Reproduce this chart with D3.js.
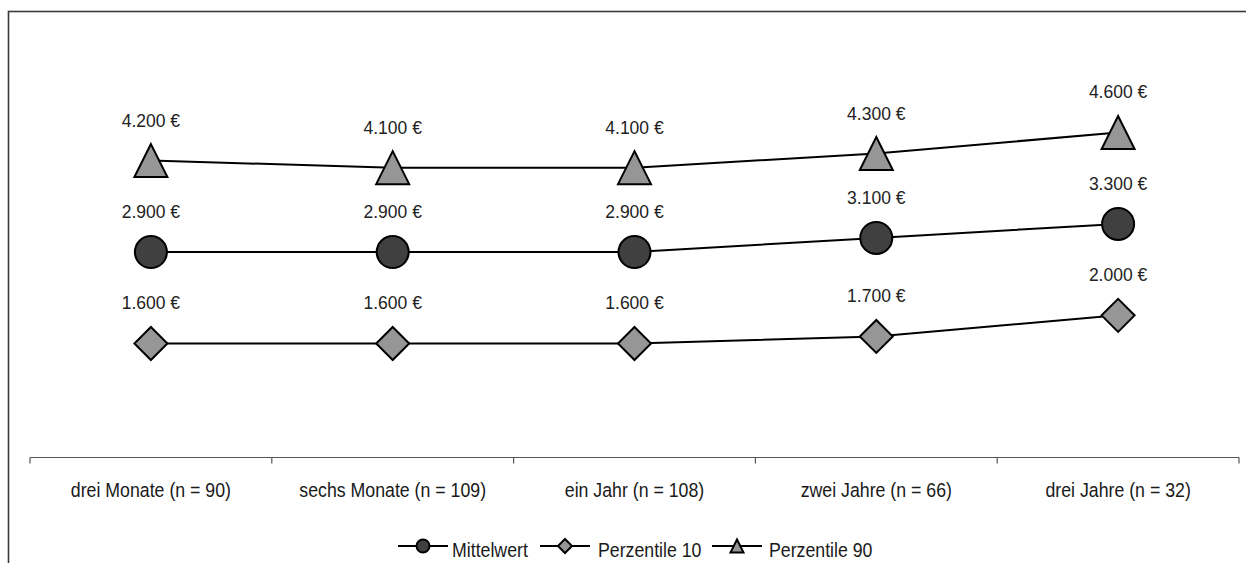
<!DOCTYPE html>
<html><head><meta charset="utf-8">
<script src="https://cdn.jsdelivr.net/npm/d3@7"></script>
<style>
html,body{margin:0;padding:0;background:#fff;}
svg{display:block;}
text{font-family:"Liberation Sans Narrow","Arial Narrow","Liberation Sans",Arial,sans-serif;fill:#1a1a1a;}
</style></head><body>
<svg id="c" width="1246" height="563"></svg>
<script>
const categories = ["drei Monate (n = 90)","sechs Monate (n = 109)","ein Jahr (n = 108)","zwei Jahre (n = 66)","drei Jahre (n = 32)"];
const mittelwert = [2900,2900,2900,3100,3300];
const perzentil10 = [1600,1600,1600,1700,2000];
const perzentil90 = [4200,4100,4100,4300,4600];
const seriesNames = ["Mittelwert","Perzentile 10","Perzentile 90"];

const svg = d3.select("#c");
const SX = 0.91; // horizontal condensing for narrow look

// frame
svg.append("rect").attr("x",8.5).attr("y",11.5).attr("width",1300).attr("height",700)
  .attr("fill","none").attr("stroke","#3a3a3a").attr("stroke-width",1.6);

const x = d3.scaleBand().domain(categories).range([30,1239]).padding(0);
const y = d3.scaleLinear().domain([0,6000]).range([456,34]);
const cx = d => x(d) + x.bandwidth()/2;

const fmt = d3.formatLocale({decimal:",",thousands:".",grouping:[3],currency:["","\u00a0€"]});
const f = v => fmt.format(",")(v) + " €";

function narrowText(sel, tx, ty, anchor){
  return sel.append("text")
    .attr("transform",`translate(${tx},${ty}) scale(${SX},1)`)
    .attr("text-anchor",anchor||"start")
    .style("font-size","19.5px");
}

// axis
const axisY = 457.5;
const ag = svg.append("g");
ag.append("line").attr("x1",x.range()[0]).attr("x2",x.range()[1]).attr("y1",axisY).attr("y2",axisY)
  .attr("stroke","#555").attr("stroke-width",1.2);
const bounds = categories.map(c=>x(c)).concat([x.range()[1]]);
ag.selectAll("line.t").data(bounds).enter().append("line").attr("class","t")
  .attr("x1",d=>d).attr("x2",d=>d).attr("y1",axisY).attr("y2",axisY+6)
  .attr("stroke","#555").attr("stroke-width",1.2);
categories.forEach(c=>{
  narrowText(ag, cx(c), 497, "middle").text(c);
});

const series = [
  {name:"Perzentile 90", vals:perzentil90, shape:"tri", fill:"#969696"},
  {name:"Mittelwert", vals:mittelwert, shape:"circle", fill:"#404040"},
  {name:"Perzentile 10", vals:perzentil10, shape:"diamond", fill:"#969696"}
];

function marker(g, shape, fill, s){
  if(shape==="circle"){
    g.append("circle").attr("r",s).attr("fill",fill).attr("stroke","#000").attr("stroke-width",2);
  } else if(shape==="diamond"){
    g.append("path").attr("d",`M0,${-s}L${s},0L0,${s}L${-s},0Z`).attr("fill",fill).attr("stroke","#000").attr("stroke-width",2);
  } else {
    g.append("path").attr("d",`M0,${-s}L${s},${s}L${-s},${s}Z`).attr("fill",fill).attr("stroke","#000").attr("stroke-width",2);
  }
}

const line = d3.line().x((d,i)=>cx(categories[i])).y(d=>y(d));
series.forEach(s=>{
  svg.append("path").attr("d",line(s.vals)).attr("fill","none").attr("stroke","#000").attr("stroke-width",2);
});
series.forEach(s=>{
  s.vals.forEach((v,i)=>{
    const g = svg.append("g").attr("transform",`translate(${cx(categories[i])},${y(v)})`);
    marker(g, s.shape, s.fill, s.shape==="circle"?16:16.5);
    svg.append("text").attr("x",cx(categories[i])).attr("y",y(v)-34)
      .attr("text-anchor","middle").style("font-family","'Liberation Sans',Arial,sans-serif")
      .style("font-size","17.5px").style("fill","#222").text(f(v));
  });
});

// legend
const legendItems = [
  {name:"Mittelwert", shape:"circle", fill:"#404040", lx:398, tx:452},
  {name:"Perzentile 10", shape:"diamond", fill:"#969696", lx:540, tx:598},
  {name:"Perzentile 90", shape:"tri", fill:"#969696", lx:712, tx:769}
];
const ly = 546;
legendItems.forEach(it=>{
  const g = svg.append("g");
  g.append("line").attr("x1",it.lx).attr("x2",it.lx+50).attr("y1",ly).attr("y2",ly).attr("stroke","#000").attr("stroke-width",2);
  const m = g.append("g").attr("transform",`translate(${it.lx+25},${ly})`);
  marker(m, it.shape, it.fill, it.shape==="circle"?6.5:(it.shape==="tri"?6.5:7));
  narrowText(g, it.tx, 557, "start").text(it.name);
});
</script></body></html>
